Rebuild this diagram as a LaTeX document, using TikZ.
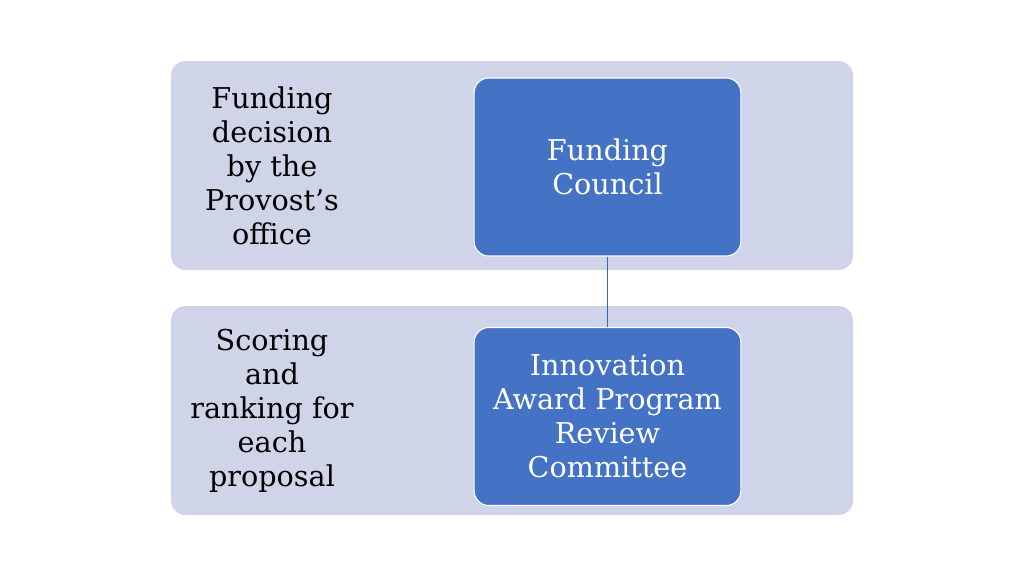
\documentclass[tikz,border=0pt]{standalone}
\usepackage{fontspec}
\setmainfont{DejaVu Serif}
\usetikzlibrary{positioning}

\definecolor{bandfill}{HTML}{CFD4E8}
\definecolor{boxfill}{HTML}{4472C4}
\definecolor{linkcol}{HTML}{3C64AE}

\tikzset{
    band/.style={fill=bandfill, rounded corners=11pt},
    council/.style={fill=boxfill, draw=white, line width=0.8pt, rounded corners=11pt,
        minimum width=200pt, minimum height=133.5pt, align=center,
        text=white, font=\fontsize{21.5}{25.5}\selectfont},
    stage/.style={align=center, text=black, font=\fontsize{21.5}{25.5}\selectfont}
}

\begin{document}
\begin{tikzpicture}[x=0.75pt,y=-0.75pt]
    \useasboundingbox[fill=white] (0,0) rectangle (1024,576);
    \fill[band] (171,61) rectangle (853,270);
    \fill[band] (171,306) rectangle (853,515);
    \node[council] (fc) at (607.5,167) {Funding\\Council};
    \node[council] (iapr) at (607.5,416.5) {Innovation\\Award Program\\Review\\Committee};
    \node[stage] (decision) at (272,166) {Funding\\decision\\by the\\Provost’s\\office};
    \node[stage] (scoring) at (272,411) {Scoring\\and\\ranking for\\each\\proposal};
    \draw[linkcol, line width=1.2pt] (fc) -- (iapr);
\end{tikzpicture}
\end{document}
